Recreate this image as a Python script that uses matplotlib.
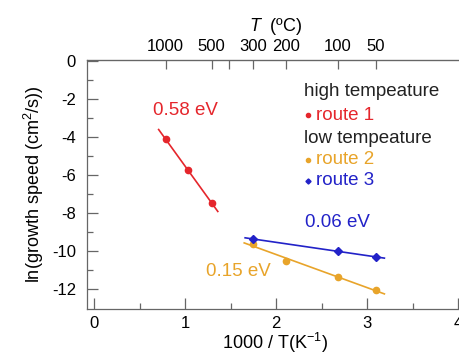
import numpy as np
import matplotlib
matplotlib.use("Agg")
import matplotlib.pyplot as plt

plt.rcParams["font.family"] = ["Liberation Sans", "DejaVu Sans"]
plt.rcParams["mathtext.fontset"] = "custom"
plt.rcParams["mathtext.rm"] = "Liberation Sans"
plt.rcParams["mathtext.it"] = "Liberation Sans:italic"
plt.rcParams["axes.unicode_minus"] = False

# data (x = 1000/T in 1/K, y = ln(growth speed))
route1_x = [0.786, 1.028, 1.294]
route1_y = [-4.10, -5.74, -7.47]
route2_x = [1.745, 2.114, 2.681, 3.096]
route2_y = [-9.63, -10.53, -11.37, -12.05]
route3_x = [1.745, 2.681, 3.096]
route3_y = [-9.37, -10.00, -10.32]

# extent of each fit line
fit1_range = [0.71, 1.36]
fit2_range = [1.65, 3.19]
fit3_range = [1.66, 3.19]

energies = ["0.58 eV", "0.15 eV", "0.06 eV"]
top_ticks_c = [1000, 500, 400, 300, 200, 100, 50]
top_labels = ["1000", "500", "", "300", "200", "100", "50"]

red = "#e5262c"
orange = "#e8a42a"
blue = "#2222c8"
axis_col = "#666666"

fig = plt.figure(figsize=(4.59, 3.56), dpi=100)
ax = fig.add_axes([87 / 459, 1 - 309 / 356, 1.01 - 87 / 459, (309 - 60) / 356])


def fit_line(xs, ys, rng, color):
    p = np.polyfit(xs, ys, 1)
    xx = np.array(rng)
    ax.plot(xx, np.polyval(p, xx), color=color, lw=1.2, zorder=2)


fit_line(route1_x, route1_y, fit1_range, red)
fit_line(route2_x, route2_y, fit2_range, orange)
fit_line(route3_x, route3_y, fit3_range, blue)

ax.plot(route1_x, route1_y, "o", color=red, ms=4.5, zorder=3)
ax.plot(route2_x, route2_y, "o", color=orange, ms=4.5, zorder=3)
ax.plot(route3_x, route3_y, "D", color=blue, ms=3.8, zorder=3)

ax.set_xlim(-0.077, 4.06)
ax.set_ylim(-13.05, 0.05)
ax.set_xticks([0, 1, 2, 3, 4])
ax.set_xticks([0.5, 1.5, 2.5, 3.5], minor=True)
ax.set_yticks([0, -2, -4, -6, -8, -10, -12])
ax.set_yticks([-1, -3, -5, -7, -9, -11], minor=True)
ax.tick_params(which="both", direction="in", color=axis_col, labelsize=12, width=0.9)
ax.tick_params(which="major", length=8, pad=5)
ax.tick_params(which="minor", length=4.5)
ax.tick_params(axis="y", pad=8)
for s in ax.spines.values():
    s.set_color(axis_col)
    s.set_linewidth(0.9)
ax.spines["right"].set_visible(False)

ax.set_xlabel("1000 / T(K$^{-1}$)", fontsize=13, labelpad=0)
ax.set_ylabel("ln(growth speed (cm$^2$/s))", fontsize=13, labelpad=4)

# top axis in degrees Celsius
top = ax.twiny()
top.set_xlim(ax.get_xlim())
top.set_xticks([1000 / (t + 273.15) for t in top_ticks_c])
top.set_xticklabels(top_labels)
top.tick_params(direction="in", length=6.5, color=axis_col, labelsize=12, width=0.9, pad=4)
top.spines["top"].set_color(axis_col)
top.spines["right"].set_visible(False)
top.spines["left"].set_visible(False)
top.spines["bottom"].set_visible(False)
top.set_xlabel("$T$  (ºC)", fontsize=13, labelpad=6)

# annotations
ax.text(1.0, -2.6, energies[0], color=red, fontsize=13.5, ha="center", va="center")
ax.text(1.59, -11.1, energies[1], color=orange, fontsize=13.5, ha="center", va="center")
ax.text(2.67, -8.5, energies[2], color=blue, fontsize=13.5, ha="center", va="center")

# hand-made legend
ax.text(2.31, -1.63, "high tempeature", fontsize=13.5, va="center", color="#222222")
ax.plot([2.35], [-2.85], "o", color=red, ms=3)
ax.text(2.44, -2.85, "route 1", color=red, fontsize=13.5, va="center")
ax.text(2.31, -4.1, "low tempeature", fontsize=13.5, va="center", color="#222222")
ax.plot([2.35], [-5.2], "o", color=orange, ms=3)
ax.text(2.44, -5.2, "route 2", color=orange, fontsize=13.5, va="center")
ax.plot([2.35], [-6.3], "D", color=blue, ms=2.6)
ax.text(2.44, -6.3, "route 3", color=blue, fontsize=13.5, va="center")

fig.savefig("out.png", dpi=100)
